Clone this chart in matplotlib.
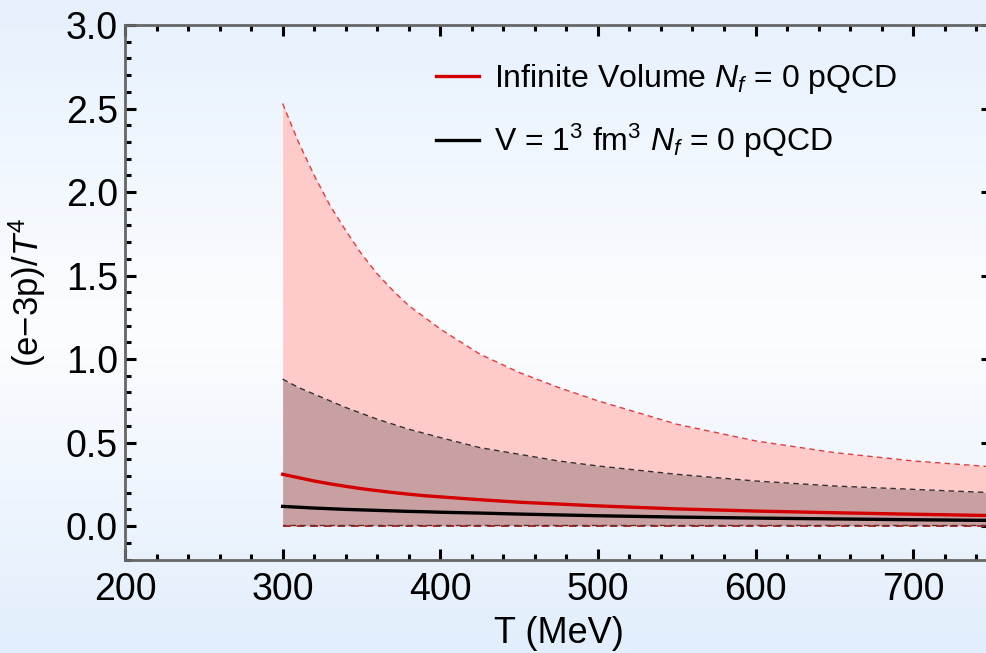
import numpy as np
import matplotlib
matplotlib.use('Agg')
import matplotlib.pyplot as plt
from matplotlib.ticker import MultipleLocator

plt.rcParams['font.family'] = ['Liberation Sans', 'DejaVu Sans']
plt.rcParams['mathtext.fontset'] = 'custom'
plt.rcParams['mathtext.rm'] = 'Liberation Sans'
plt.rcParams['mathtext.it'] = 'Liberation Sans:italic'

# Datos
T = [300, 310, 320, 330, 340, 350, 360, 370, 380, 390, 400, 425, 450, 475, 500,
     550, 600, 650, 700, 750]
inf_central = [0.31, 0.29, 0.27, 0.253, 0.238, 0.224, 0.212, 0.201, 0.191, 0.182, 0.175,
               0.158, 0.143, 0.132, 0.121, 0.103, 0.090, 0.080, 0.071, 0.063]
inf_upper = [2.53, 2.30, 2.10, 1.92, 1.77, 1.63, 1.51, 1.41, 1.32, 1.25, 1.18,
             1.03, 0.92, 0.83, 0.75, 0.61, 0.51, 0.44, 0.39, 0.355]
inf_lower = [0.0] * len(T)
vol_central = [0.118, 0.113, 0.108, 0.104, 0.100, 0.097, 0.094, 0.091, 0.088, 0.086, 0.083,
               0.078, 0.072, 0.067, 0.062, 0.054, 0.048, 0.043, 0.038, 0.034]
vol_upper = [0.88, 0.83, 0.79, 0.75, 0.71, 0.675, 0.64, 0.61, 0.58, 0.555, 0.53,
             0.47, 0.43, 0.39, 0.36, 0.31, 0.27, 0.24, 0.22, 0.20]
vol_lower = [0.004] * len(T)

fig = plt.figure(figsize=(9.86, 6.53), dpi=100)

# Fondo degradado
bg = fig.add_axes([0, 0, 1, 1])
bg.axis('off')
top = np.array([230, 241, 253]) / 255
mid = np.array([252, 253, 255]) / 255
bot = np.array([226, 238, 252]) / 255
yy = np.linspace(0, 1, 300)[:, None]
grad = np.where(yy < 0.5, top + (mid - top) * (yy / 0.5), mid + (bot - mid) * ((yy - 0.5) / 0.5))
bg.imshow(grad[:, None, :], aspect='auto', extent=[0, 1, 0, 1], origin='upper')

ax = fig.add_axes([125 / 986, 1 - 559.5 / 653, (992 - 125) / 986, (559.5 - 25) / 653])
ax.patch.set_alpha(0)

ax.fill_between(T, inf_lower, inf_upper, color='#ffcaca', lw=0)
ax.fill_between(T, vol_lower, vol_upper, color='#c9a0a1', lw=0)
ax.plot(T, inf_upper, color='#e83a3a', ls=(0, (4, 3)), lw=1)
ax.plot(T, inf_lower, color='#b02828', ls=(0, (4, 3)), lw=1.4)
ax.plot(T, vol_upper, color='#333333', ls=(0, (4, 3)), lw=1)
ax.plot(T, vol_lower, color='#553333', ls=(2, (4, 3)), lw=1)
ax.plot(T, inf_central, color='#d40000', lw=2.4, label=r'Infinite Volume $N_f$ = 0 pQCD')
ax.plot(T, vol_central, color='black', lw=2.4, label=r'V = 1$^3$ fm$^3$ $N_f$ = 0 pQCD')

ax.set_xlim(200, 750)
ax.set_ylim(-0.2, 3.0)
ax.xaxis.set_major_locator(MultipleLocator(100))
ax.xaxis.set_minor_locator(MultipleLocator(20))
ax.yaxis.set_major_locator(MultipleLocator(0.5))
ax.yaxis.set_minor_locator(MultipleLocator(0.1))
ax.tick_params(which='both', direction='in', top=True, right=True, color='black',
               labelsize=27)
ax.tick_params(which='major', length=8, width=2.2)
ax.tick_params(which='minor', length=4, width=2.2)
ax.tick_params(axis='x', pad=9)
ax.tick_params(axis='y', pad=5)
for s in ax.spines.values():
    s.set_color('#666666')
    s.set_linewidth(2)

ax.set_xlabel('T (MeV)', fontsize=26, labelpad=6)
ax.set_ylabel('(e\u22123p)/$T^4$', fontsize=25, labelpad=13)

ax.legend(loc='upper left', bbox_to_anchor=(436 / 986, 1 - 62 / 653),
          bbox_transform=fig.transFigure, frameon=False, fontsize=23,
          borderpad=0, borderaxespad=0, handlelength=1.35, handletextpad=0.45,
          labelspacing=0.8)

plt.savefig('out.png', dpi=100)
